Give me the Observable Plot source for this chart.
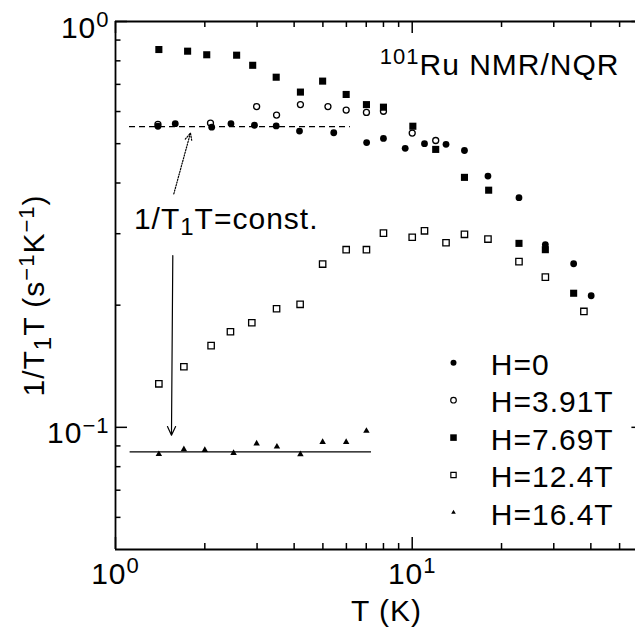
<!DOCTYPE html>
<html>
<head>
<meta charset="utf-8">
<script src="https://cdn.jsdelivr.net/npm/d3@7"></script>
<script src="https://cdn.jsdelivr.net/npm/@observablehq/plot@0.6"></script>
<style>
  html, body { margin: 0; padding: 0; background: #fff; overflow: hidden; }
  #chart svg text { letter-spacing: 1px; }
</style>
</head>
<body>
<div id="chart"></div>
<script>
// ---- Data ----
// H = 0 (filled circles)
const h0T = [1.39, 1.59, 2.11, 2.45, 2.94, 3.48, 4.17, 5.44, 7.02, 8.00, 9.47, 11.0, 13.0, 15.0, 18.0, 22.9, 28.1, 35.0, 40.1];
const h0V = [0.552, 0.560, 0.549, 0.560, 0.555, 0.553, 0.537, 0.532, 0.503, 0.515, 0.487, 0.500, 0.498, 0.481, 0.416, 0.368, 0.282, 0.253, 0.211];
// H = 3.91T (open circles)
const h391T = [1.39, 2.09, 2.99, 3.49, 4.20, 5.20, 5.99, 7.01, 8.00, 10.0, 12.0];
const h391V = [0.558, 0.562, 0.617, 0.588, 0.624, 0.617, 0.605, 0.597, 0.601, 0.531, 0.509];
// H = 7.69T (filled squares)
const h769T = [1.40, 1.75, 2.03, 2.56, 2.90, 3.48, 4.20, 4.99, 5.99, 7.01, 8.00, 10.05, 12.0, 15.0, 18.1, 22.9, 28.1, 35.0];
const h769V = [0.853, 0.845, 0.828, 0.826, 0.780, 0.729, 0.670, 0.713, 0.661, 0.624, 0.615, 0.552, 0.484, 0.413, 0.384, 0.284, 0.274, 0.214];
// H = 12.4T (open squares)
const h124T = [1.40, 1.70, 2.10, 2.44, 2.88, 3.49, 4.19, 4.99, 5.99, 7.01, 8.00, 10.0, 11.0, 13.0, 15.0, 18.0, 22.9, 28.1, 37.9];
const h124V = [0.128, 0.141, 0.159, 0.172, 0.181, 0.196, 0.201, 0.2525, 0.274, 0.274, 0.301, 0.294, 0.305, 0.285, 0.299, 0.291, 0.256, 0.2345, 0.193];
// H = 16.4T (filled triangles)
const h164T = [1.40, 1.70, 2.00, 2.50, 2.99, 3.50, 4.20, 4.99, 5.99, 7.01];
const h164V = [0.0859, 0.0883, 0.0879, 0.0864, 0.0912, 0.0896, 0.0858, 0.0920, 0.0920, 0.0980];

const seriesLabels = ["H=0", "H=3.91T", "H=7.69T", "H=12.4T", "H=16.4T"];

// 1/T1T = const. guide lines
const constLevel = [0.551, 0.087];
const constFrom = [1.115, 1.12];
const constTo = [6.19, 7.29];

// annotation arrows (from label to guide lines)
const arrowX1 = [1.572, 1.560];
const arrowY1 = [0.376, 0.265];
const arrowX2 = [1.789, 1.544];
const arrowY2 = [0.531, 0.0956];

// axis ticks
const xMajor = [1, 10];
const xMinor = [2, 3, 4, 5, 6, 7, 8, 9, 20, 30, 40, 50, 60];
const xTickLabels = ["10^{0}", "10^{1}"];
const yMajor = [0.1, 1];
const yMinor = [0.06, 0.07, 0.08, 0.09, 0.2, 0.3, 0.4, 0.5, 0.6, 0.7, 0.8, 0.9];
const yTickLabels = ["10^{\u22121}", "10^{0}"];

const titleText = "^{101}Ru NMR/NQR";
const xLabel = "T (K)";
const yLabel = "1/T_{1}T (s^{\u22121}K^{\u22121})";
const annotText = "1/T_{1}T=const.";

// ---- build ----
const pts = (T, V) => T.map((t, i) => ({t, v: V[i]}));
const series = [
  {data: pts(h0T, h0V),     symbol: "circle",   fill: "black", stroke: "none",  r: 3.4, lr: 3.0},
  {data: pts(h391T, h391V), symbol: "circle",   fill: "none",  stroke: "black", r: 3.0, lr: 2.8},
  {data: pts(h769T, h769V), symbol: "square",   fill: "black", stroke: "none",  r: 4.0, lr: 3.7},
  {data: pts(h124T, h124V), symbol: "square",   fill: "none",  stroke: "black", r: 3.6, lr: 3.0},
  {data: pts(h164T, h164V), symbol: "triangle", fill: "black", stroke: "none",  r: 2.4, lr: 1.7}
];
const drawOrder = [3, 2, 1, 0, 4];

const consts = constLevel.map((v, i) => ({v, a: constFrom[i], b: constTo[i]}));
const arrows = arrowX1.map((x1, i) => ({x1, y1: arrowY1[i], x2: arrowX2[i], y2: arrowY2[i]}));

const tickW = 1.5;
const T = {lineAnchor: "middle"};
const marks = [
  // frame (left, top, bottom; right edge lies beyond the picture)
  Plot.ruleY([0.05, 1], {y: d => d, strokeWidth: 1.8}),
  Plot.ruleX([1], {x: d => d, strokeWidth: 1.8}),
  // bottom ticks (inward)
  Plot.tickX(xMajor, {x: d => d, insetTop: 516, strokeWidth: tickW}),
  Plot.tickX(xMinor, {x: d => d, insetTop: 522, strokeWidth: tickW}),
  // top ticks (inward)
  Plot.tickX(xMajor, {x: d => d, insetBottom: 516, strokeWidth: tickW}),
  Plot.tickX(xMinor, {x: d => d, insetBottom: 522, strokeWidth: tickW}),
  // left ticks (inward)
  Plot.tickY(yMajor, {y: d => d, insetRight: 508, strokeWidth: tickW}),
  Plot.tickY(yMinor, {y: d => d, insetRight: 514.5, strokeWidth: tickW}),
  // right major ticks (mostly outside the picture)
  Plot.tickY(yMajor, {y: d => d, insetLeft: 516.4, strokeWidth: tickW}),
  // tick labels
  Plot.text(xMajor, {...T, x: d => d, text: (d, i) => xTickLabels[i], frameAnchor: "bottom", dy: 24.4, textAnchor: "middle"}),
  Plot.text(yMajor, {...T, y: d => d, text: (d, i) => yTickLabels[i], frameAnchor: "left", dx: -6, dy: 6.4, textAnchor: "end"}),
  // axis titles
  Plot.text([xLabel], {...T, frameAnchor: "bottom", dx: 11, dy: 61.4, textAnchor: "middle"}),
  Plot.text([yLabel], {...T, frameAnchor: "left", rotate: -90, dx: -81.1, dy: 10, textAnchor: "middle"}),
  // chart title
  Plot.text([titleText], {...T, frameAnchor: "top-left", dx: 264.3, dy: 43.4, textAnchor: "start"}),
  // constant guide lines
  Plot.ruleY([consts[0]], {y: "v", x1: "a", x2: "b", strokeWidth: 1.3, strokeDasharray: "6,4"}),
  Plot.ruleY([consts[1]], {y: "v", x1: "a", x2: "b", strokeWidth: 1.3}),
  // annotation
  Plot.text([annotText], {...T, frameAnchor: "top-left", dx: 18.4, dy: 197.4, textAnchor: "start"}),
  Plot.arrow([arrows[0]], {x1: "x1", y1: "y1", x2: "x2", y2: "y2", strokeWidth: 1.2, strokeDasharray: "1.3,1.5", headLength: 10, headAngle: 50}),
  Plot.arrow([arrows[1]], {x1: "x1", y1: "y1", x2: "x2", y2: "y2", strokeWidth: 1.2, headLength: 12, headAngle: 50}),
  // data
  ...drawOrder.map(k => {
    const s = series[k];
    return Plot.dot(s.data, {x: "t", y: "v", symbol: s.symbol, r: s.r, fill: s.fill, stroke: s.stroke, strokeWidth: 1.3});
  }),
  // legend
  ...series.map((s, i) => Plot.dot([seriesLabels[i]], {frameAnchor: "top-left", dx: 338, dy: 341.3 + 37.4 * i, symbol: s.symbol, r: s.lr, fill: s.fill, stroke: s.stroke, strokeWidth: 1.2})),
  ...seriesLabels.map((lab, i) => Plot.text([lab], {...T, frameAnchor: "top-left", dx: 375.3, dy: 343.4 + 37.6 * i, textAnchor: "start"}))
];

const chart = Plot.plot({
  width: 635,
  height: 632,
  marginLeft: 115,
  marginRight: 0,
  marginTop: 21,
  marginBottom: 83,
  x: {type: "log", domain: [1, 60], range: [115, 642.6], axis: null},
  y: {type: "log", domain: [0.05, 1], axis: null},
  style: {fontFamily: "'Liberation Sans', Arial, Helvetica, sans-serif", fontSize: "30px", background: "white", color: "black"},
  marks
});

// turn ^{...} and _{...} into real superscript / subscript tspans
const SUP_SIZE = 22, SUP_RAISE = 10.5, SUB_SIZE = 24, SUB_DROP = 6.5;
d3.select(chart).selectAll("text").each(function () {
  const s = this.textContent;
  if (!/[\^_]\{/.test(s)) return;
  const el = d3.select(this);
  el.text(null);
  const re = /([\^_])\{([^}]*)\}/g;
  let last = 0, m, shift = 0;
  const add = (txt, kind) => {
    const ts = el.append("tspan").text(txt);
    const target = kind === "^" ? -SUP_RAISE : kind === "_" ? SUB_DROP : 0;
    if (target !== shift) ts.attr("dy", target - shift);
    if (kind) ts.attr("font-size", kind === "^" ? SUP_SIZE : SUB_SIZE);
    shift = target;
  };
  while ((m = re.exec(s))) {
    if (m.index > last) add(s.slice(last, m.index), null);
    add(m[2], m[1]);
    last = re.lastIndex;
  }
  if (last < s.length) add(s.slice(last), null);
});

document.getElementById("chart").appendChild(chart);
</script>
</body>
</html>
